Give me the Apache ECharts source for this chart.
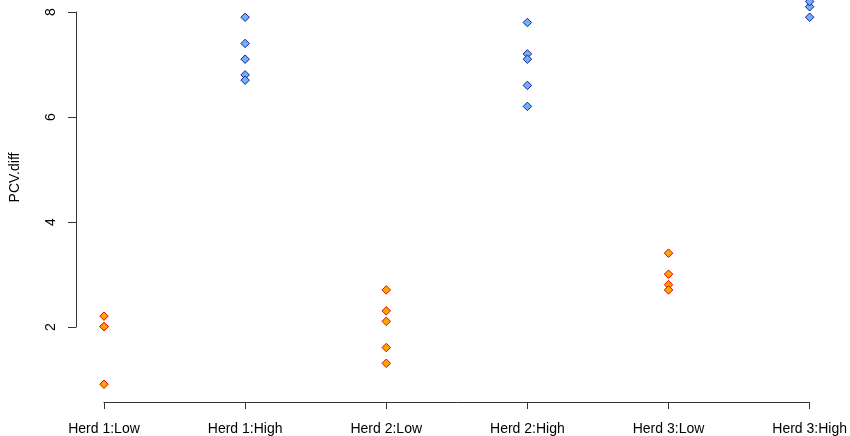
<!DOCTYPE html>
<html>
<head>
<meta charset="utf-8">
<script src="https://cdn.jsdelivr.net/npm/echarts@6/dist/echarts.min.js"></script>
<style>html,body{margin:0;padding:0;background:#fff;}#c{width:850px;height:436px;}</style>
</head>
<body>
<div id="c"></div>
<script>
const categories = ['Herd 1:Low', 'Herd 1:High', 'Herd 2:Low', 'Herd 2:High', 'Herd 3:Low', 'Herd 3:High'];
const herd1Low = [2.2, 2.0, 2.0, 0.9];
const herd1High = [7.9, 7.4, 7.1, 6.8, 6.7];
const herd2Low = [2.7, 2.3, 2.1, 1.6, 1.3];
const herd2High = [7.8, 7.2, 7.1, 6.6, 6.2];
const herd3Low = [3.4, 3.0, 2.8, 2.7];
const herd3High = [7.9, 8.1, 8.2, 8.4, 8.5];
const yTicks = [2, 4, 6, 8];
const yName = 'PCV.diff';

const lowGroups = [[0, herd1Low], [2, herd2Low], [4, herd3Low]];
const highGroups = [[1, herd1High], [3, herd2High], [5, herd3High]];
const toPoints = groups => groups.flatMap(([i, vals]) => vals.map(v => [categories[i], v]));

const FONT = 'Liberation Sans, Arial, sans-serif';
const AXIS = '#333';
const chart = echarts.init(document.getElementById('c'), null, {renderer: 'canvas'});
chart.setOption({
  animation: false,
  backgroundColor: '#fff',
  grid: [
    {left: 104, right: 40, top: 12, bottom: 33.5},
    {left: 76, width: 700, top: 12, height: 315}
  ],
  xAxis: [
    {
      gridIndex: 0, type: 'category', data: categories, boundaryGap: false,
      axisLine: {show: true, lineStyle: {color: AXIS, width: 1}},
      axisTick: {show: true, length: 7, alignWithLabel: true, lineStyle: {color: AXIS}},
      axisLabel: {color: '#000', fontSize: 14, fontFamily: FONT, margin: 20, interval: 0},
      splitLine: {show: false}
    },
    {gridIndex: 1, type: 'value', show: false, min: 0, max: 1}
  ],
  yAxis: [
    {gridIndex: 0, type: 'value', show: false, min: 8 - 390.5 / 52.5, max: 8},
    {
      gridIndex: 1, type: 'value', min: yTicks[0], max: yTicks[yTicks.length - 1], interval: 2,
      axisLine: {show: true, lineStyle: {color: AXIS, width: 1}},
      axisTick: {show: true, length: 8, lineStyle: {color: AXIS}},
      axisLabel: {color: '#000', fontSize: 14, fontFamily: FONT, rotate: 90, margin: 18},
      splitLine: {show: false}
    }
  ],
  graphic: [{
    type: 'text', x: 15.5, y: 177.5, rotation: Math.PI / 2,
    style: {text: yName, fill: '#000', font: '14px ' + FONT, textAlign: 'center', textVerticalAlign: 'middle'}
  }],
  series: [
    {
      type: 'scatter', xAxisIndex: 0, yAxisIndex: 0, clip: false,
      symbol: 'diamond', symbolSize: 8.5,
      itemStyle: {color: '#FFA500', borderColor: '#F00000', borderWidth: 1, opacity: 1},
      data: toPoints(lowGroups)
    },
    {
      type: 'scatter', xAxisIndex: 0, yAxisIndex: 0, clip: false,
      symbol: 'diamond', symbolSize: 8.5,
      itemStyle: {color: '#6CB4F5', borderColor: '#1A1A9C', borderWidth: 1, opacity: 1},
      data: toPoints(highGroups)
    }
  ]
});
</script>
</body>
</html>
